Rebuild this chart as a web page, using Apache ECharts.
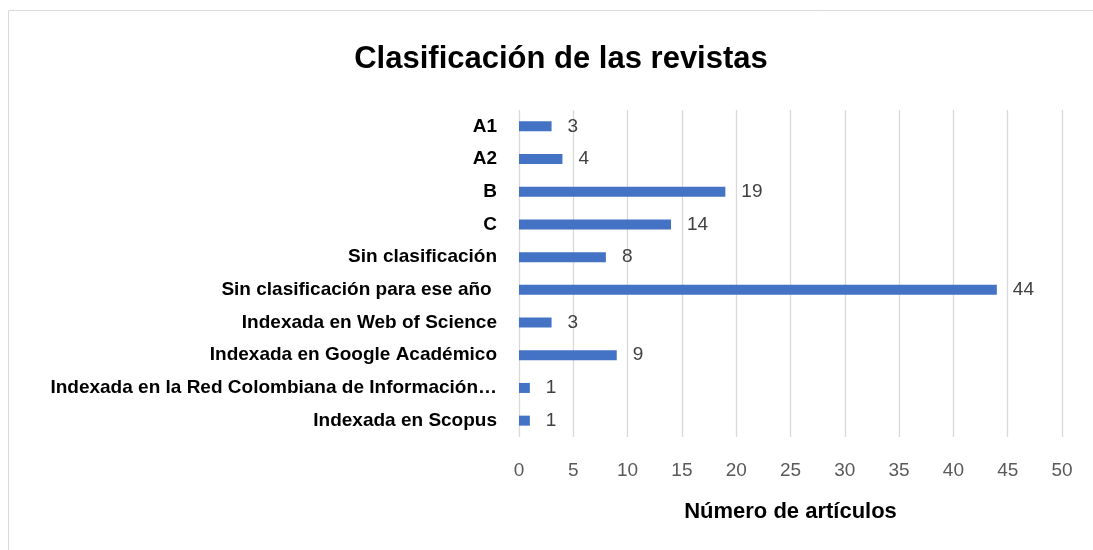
<!DOCTYPE html>
<html>
<head>
<meta charset="utf-8">
<script src="https://cdn.jsdelivr.net/npm/echarts@6/dist/echarts.min.js"></script>
<style>
  html, body { margin: 0; padding: 0; background: #fff; }
  #chart { width: 1093px; height: 550px; }
</style>
</head>
<body>
<div id="chart"></div>
<script>
const categories = [
  'A1',
  'A2',
  'B',
  'C',
  'Sin clasificación',
  'Sin clasificación para ese año ',
  'Indexada en Web of Science',
  'Indexada en Google Académico',
  'Indexada en la Red Colombiana de Información Científica',
  'Indexada en Scopus'
];
const counts = [3, 4, 19, 14, 8, 44, 3, 9, 1, 1];
const xTicks = { min: 0, max: 50, interval: 5 };

const FONT = '"Liberation Sans", Arial, sans-serif';

const chart = echarts.init(document.getElementById('chart'));
chart.setOption({
  animation: false,
  backgroundColor: '#fff',
  title: {
    text: 'Clasificación de las revistas',
    left: 556,
    top: 39,
    textAlign: 'center',
    textStyle: { fontFamily: FONT, fontSize: 31, fontWeight: 'bold', color: '#000' }
  },
  graphic: [{
    type: 'rect',
    shape: { x: 8.5, y: 10.5, width: 1200, height: 700 },
    style: { fill: 'none', stroke: '#d9d9d9', lineWidth: 1 },
    silent: true
  }],
  grid: { left: 519, right: 31, top: 110, bottom: 113, containLabel: false },
  xAxis: {
    type: 'value',
    min: xTicks.min,
    max: xTicks.max,
    interval: xTicks.interval,
    name: 'Número de artículos',
    nameLocation: 'middle',
    nameGap: 64,
    nameTextStyle: { fontFamily: FONT, fontSize: 22, fontWeight: 'bold', color: '#000' },
    axisLine: { show: false },
    axisTick: { show: false },
    axisLabel: { fontFamily: FONT, fontSize: 19, color: '#595959', margin: 24 },
    splitLine: { show: true, lineStyle: { color: '#d9d9d9', width: 1.3 } }
  },
  yAxis: {
    type: 'category',
    inverse: true,
    data: categories,
    axisLine: { show: false },
    axisTick: { show: false },
    axisLabel: {
      fontFamily: FONT,
      fontSize: 19,
      fontWeight: 'bold',
      color: '#000',
      margin: 22,
      width: 450,
      overflow: 'truncate',
      ellipsis: '…'
    }
  },
  series: [{
    type: 'bar',
    data: counts,
    barWidth: 10,
    itemStyle: { color: '#4472C4' },
    label: {
      show: true,
      position: 'right',
      distance: 16,
      fontFamily: FONT,
      fontSize: 19,
      color: '#404040'
    }
  }]
});
</script>
</body>
</html>
